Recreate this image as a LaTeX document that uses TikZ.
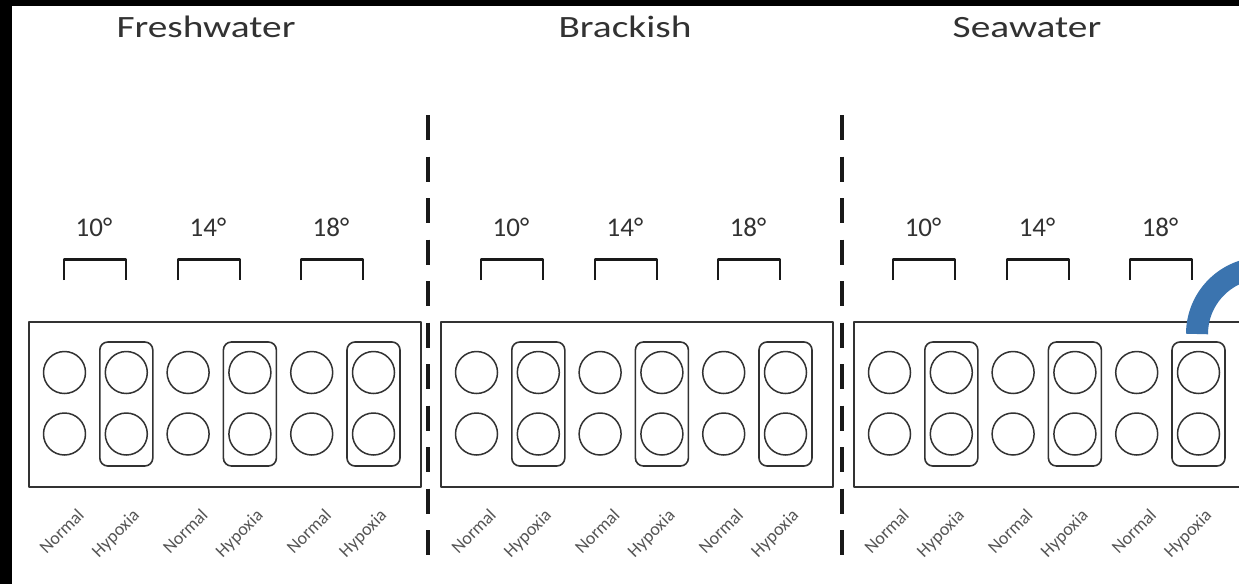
\documentclass[tikz,border=0pt]{standalone}
\usepackage{fontspec}
\setmainfont{Carlito}
\definecolor{linegray}{RGB}{50,50,50}
\definecolor{textgray}{RGB}{50,50,50}
\definecolor{lblgray}{RGB}{85,85,85}
\definecolor{bandblue}{RGB}{59,116,175}
\begin{document}
\begin{tikzpicture}[x=1pt,y=-1pt,line join=round,
  frame/.style={rectangle,draw=linegray,line width=1.8pt,anchor=north west,minimum width=392pt,minimum height=165pt,inner sep=0pt},
  tank/.style={circle,draw=linegray,line width=1.5pt,minimum size=42pt,inner sep=0pt},
  hypbox/.style={rectangle,draw=linegray,line width=1.6pt,rounded corners=8pt,minimum width=53pt,minimum height=124pt,inner sep=0pt},
  brack/.style={draw=black!90,line width=2.6pt},
  temp/.style={font=\fontsize{27}{30}\selectfont,text=textgray,inner sep=0pt,anchor=base},
  ttl/.style={font=\fontsize{31}{34}\selectfont,text=textgray,inner sep=0pt,anchor=base},
  cond/.style={font=\fontsize{18}{20}\selectfont,text=lblgray,rotate=45,inner sep=0pt},
  divider/.style={draw=black!90,line width=3.4pt,dash pattern=on 25pt off 16.5pt},
  band/.style={draw=bandblue,line width=22pt}]
\useasboundingbox (0,0) rectangle (1239,584);
\clip (0,0) rectangle (1239,584);
\fill[white] (0,0) rectangle (1239,584);
\fill[black] (0,0) rectangle (1239,5.5);
\fill[black] (0,0) rectangle (12,584);
% titles
\node[ttl] (t1) at (206,37.5) {\scalebox{1.27}[1]{Freshwater}};
\node[ttl] (t2) at (625,37.5) {\scalebox{1.27}[1]{Brackish}};
\node[ttl] (t3) at (1027,37.5) {\scalebox{1.27}[1]{Seawater}};
% dividers
\coordinate (d1a) at (428,115); \coordinate (d1b) at (428,568);
\coordinate (d2a) at (842,115); \coordinate (d2b) at (842,568);
\draw[divider] (d1a) -- (d1b);
\draw[divider] (d2a) -- (d2b);
% panels
\foreach \p/\L/\ba/\bb/\bc in {1/28/64/178/301, 2/440/481/595/718, 3/853/893/1007/1130}{
  \node[frame] (box\p) at (\L,321) {};
  \foreach \k in {0,...,5}{
    \pgfmathsetmacro{\cx}{\L+36.5+\k*61.8}
    \node[tank] (c\p-\k-a) at (\cx,372.5) {};
    \node[tank] (c\p-\k-b) at (\cx,434) {};
  }
  \foreach \k in {1,3,5}{
    \pgfmathsetmacro{\cx}{\L+36.5+\k*61.8}
    \node[hypbox] (h\p-\k) at (\cx,404) {};
  }
  \foreach \k/\nm in {0/Normal,2/Normal,4/Normal}{
    \pgfmathsetmacro{\cx}{\L+36.5+\k*61.8-3}
    \node[cond] (n\p-\k) at (\cx,531) {\nm};
  }
  \foreach \k/\nm in {1/Hypoxia,3/Hypoxia,5/Hypoxia}{
    \pgfmathsetmacro{\cx}{\L+36.5+\k*61.8-10}
    \node[cond] (n\p-\k) at (\cx,534) {\nm};
  }
  \foreach \bx/\tt [count=\i] in {\ba/10,\bb/14,\bc/18}{
    \draw[brack] (\bx,280) -- (\bx,259.5) -- ({\bx+62},259.5) -- ({\bx+62},280);
    \node[temp] (tmp\p-\i) at ({\bx+30},236) {\tt°};
  }
}
% blue band
\coordinate (arcstart) at (1197,334);
\draw[band] (arcstart) arc[start angle=180,end angle=270,radius=66];
\end{tikzpicture}
\end{document}
